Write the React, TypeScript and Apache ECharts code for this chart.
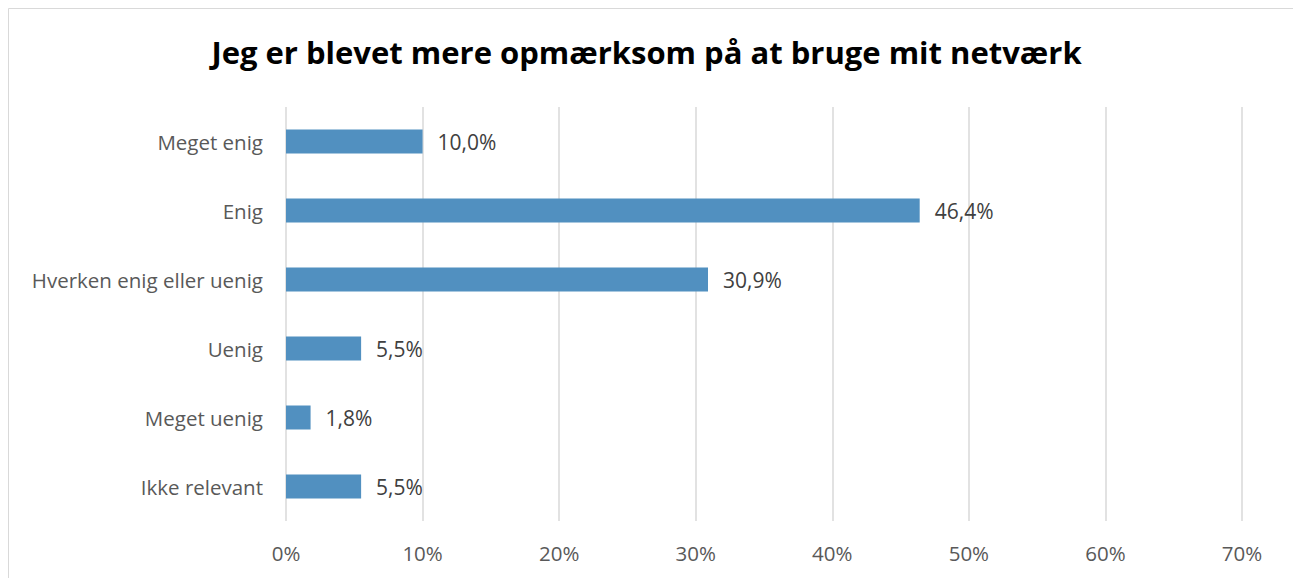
import React, { useEffect, useRef } from "react";
import * as echarts from "echarts";

const TITLE = "Jeg er blevet mere opmærksom på at bruge mit netværk";
const categories = [
  "Meget enig",
  "Enig",
  "Hverken enig eller uenig",
  "Uenig",
  "Meget uenig",
  "Ikke relevant",
];
const values = [10.0, 46.4, 30.9, 5.5, 1.8, 5.5];
const xTicks = [0, 10, 20, 30, 40, 50, 60, 70];

export default function App() {
  const ref = useRef<HTMLDivElement>(null);
  useEffect(() => {
    if (!ref.current) return;
    const chart = echarts.init(ref.current, null, { renderer: "svg" });
    const font = "'Open Sans', 'Liberation Sans', sans-serif";
    chart.setOption({
      animation: false,
      backgroundColor: "#ffffff",
      textStyle: { fontFamily: font },
      title: {
        text: TITLE,
        left: "center",
        top: 31,
        textStyle: {
          fontFamily: font,
          fontWeight: "bold",
          fontSize: 31,
          color: "#000000",
        },
      },
      graphic: [
        {
          type: "rect",
          shape: { x: 8.5, y: 8.5, width: 1300, height: 600 },
          style: { fill: "none", stroke: "#d9d9d9", lineWidth: 1 },
          silent: true,
        },
      ],
      grid: { left: 286, width: 956, top: 107, height: 414, containLabel: false },
      xAxis: {
        type: "value",
        min: xTicks[0],
        max: xTicks[xTicks.length - 1],
        interval: 10,
        axisLine: { show: false },
        axisTick: { show: false },
        splitLine: { show: true, lineStyle: { color: "#d9d9d9", width: 1.5 } },
        axisLabel: {
          formatter: (v: number) => `${v}%`,
          color: "#595959",
          fontSize: 20.5,
          margin: 21,
          fontFamily: font,
        },
      },
      yAxis: {
        type: "category",
        data: categories,
        inverse: true,
        axisLine: { show: false },
        axisTick: { show: false },
        splitLine: { show: false },
        axisLabel: { color: "#595959", fontSize: 20.5, margin: 23, fontFamily: font },
      },
      series: [
        {
          type: "bar",
          data: values,
          barWidth: 24,
          itemStyle: { color: "#5190c0" },
          label: {
            show: true,
            position: "right",
            distance: 15,
            color: "#404040",
            fontSize: 21,
            fontFamily: font,
            formatter: (p: any) => `${p.value.toFixed(1).replace(".", ",")}%`,
          },
        },
      ],
    });
    return () => chart.dispose();
  }, []);
  return (
    <div
      ref={ref}
      style={{ position: "absolute", left: 0, top: 0, width: 1293, height: 578 }}
    />
  );
}
